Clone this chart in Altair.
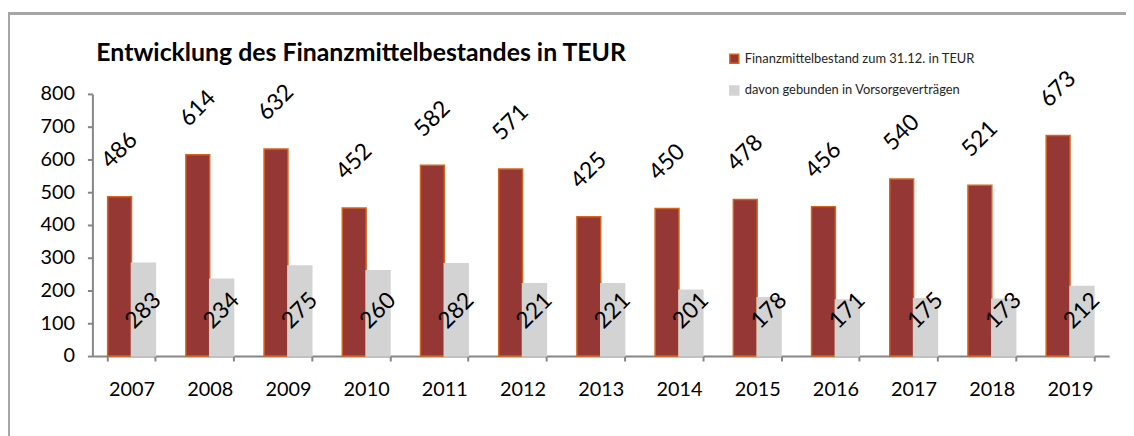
import altair as alt
import pandas as pd

years = ["2007", "2008", "2009", "2010", "2011", "2012", "2013",
         "2014", "2015", "2016", "2017", "2018", "2019"]
bestand = [486, 614, 632, 452, 582, 571, 425, 450, 478, 456, 540, 521, 673]
gebunden = [283, 234, 275, 260, 282, 221, 221, 201, 178, 171, 175, 173, 212]
y_ticks = [0, 100, 200, 300, 400, 500, 600, 700, 800]

s1 = "Finanzmittelbestand zum 31.12. in TEUR"
s2 = "davon gebunden in Vorsorgeverträgen"
series = [s1, s2]
title_text = "Entwicklung des Finanzmittelbestandes in TEUR"

rows = []
for i, y in enumerate(years):
    rows.append({"Jahr": y, "Serie": s1, "Wert": bestand[i]})
    rows.append({"Jahr": y, "Serie": s2, "Wert": gebunden[i]})
df = pd.DataFrame(rows)

FONT = "Lato"
AXIS_GRAY = "#868686"

x_enc = alt.X("Jahr:N", sort=years, title=None,
              scale=alt.Scale(paddingInner=0.39, paddingOuter=0.195),
              axis=alt.Axis(labelAngle=0, labelFontSize=20, labelFont=FONT,
                            labelColor="#000000", labelBaseline="middle",
                            labelPadding=29, tickSize=5, tickBand="extent",
                            domainColor=AXIS_GRAY, tickColor=AXIS_GRAY,
                            domainWidth=2, tickWidth=2, grid=False))
xo_enc = alt.XOffset("Serie:N", sort=series,
                     scale=alt.Scale(paddingInner=0, paddingOuter=0))
y_scale = alt.Scale(domain=[0, 800], nice=False)

base = alt.Chart(df).encode(x=x_enc, xOffset=xo_enc)

legend = alt.Legend(title=None, orient="none", legendX=640, legendY=-42,
                    symbolType="square", symbolSize=81, symbolStrokeWidth=1.5,
                    labelFont=FONT, labelFontSize=13, labelColor="#262626",
                    labelOffset=4, rowPadding=17, labelLimit=0)

y_axis = alt.Axis(values=y_ticks, labelFontSize=20, labelFont=FONT,
                  labelColor="#000000", labelPadding=13, tickSize=5,
                  grid=False, labelOverlap=False,
                  domainColor=AXIS_GRAY, tickColor=AXIS_GRAY,
                  domainWidth=2, tickWidth=2)

bars = base.mark_bar(strokeWidth=1.5).encode(
    y=alt.Y("Wert:Q", scale=y_scale, title=None, axis=y_axis),
    fill=alt.Fill("Serie:N", sort=series,
                  scale=alt.Scale(domain=series, range=["#953735", "#d3d3d3"]),
                  legend=legend),
    stroke=alt.Stroke("Serie:N", sort=series,
                      scale=alt.Scale(domain=series, range=["#d5641c", "#d3d3d3"]),
                      legend=legend),
)

top_labels = base.transform_filter(alt.datum.Serie == s1).mark_text(
    angle=315, dx=33, dy=-33, fontSize=23, font=FONT, align="center",
    baseline="middle", color="#000000"
).encode(y=alt.Y("Wert:Q", scale=y_scale, title=None, axis=y_axis),
         text="Wert:Q")

low_labels = base.transform_filter(alt.datum.Serie == s2).mark_text(
    angle=315, fontSize=23, font=FONT, align="center",
    baseline="middle", color="#000000"
).encode(y=alt.YDatum(138, axis=y_axis, title=None), text="Wert:Q")

title_layer = alt.Chart(pd.DataFrame({"t": [title_text]})).mark_text(
    font=FONT, fontSize=25, fontWeight="bold", align="left",
    baseline="middle", color="#000000"
).encode(x=alt.value(4), y=alt.value(-41), text="t:N")

frame_top = alt.Chart(df).mark_rule(color="#a6a6a6", strokeWidth=2).encode(
    x=alt.value(-85), x2=alt.value(1045), y=alt.value(-81))
frame_left = alt.Chart(df).mark_rule(color="#a6a6a6", strokeWidth=2).encode(
    x=alt.value(-84), y=alt.value(-81), y2=alt.value(350))

chart = alt.layer(frame_top, frame_left, bars, top_labels, low_labels,
                  title_layer).properties(
    width=1024, height=264,
    background="#ffffff",
    padding={"left": 85, "top": 85, "right": 17, "bottom": 79},
    autosize=alt.AutoSizeParams(type="none"),
).configure_view(strokeWidth=0).configure_axis(grid=False).configure_axisY(
    labelOverlap=False)

chart.save("out.html", embed_options={"renderer": "svg", "actions": False})
